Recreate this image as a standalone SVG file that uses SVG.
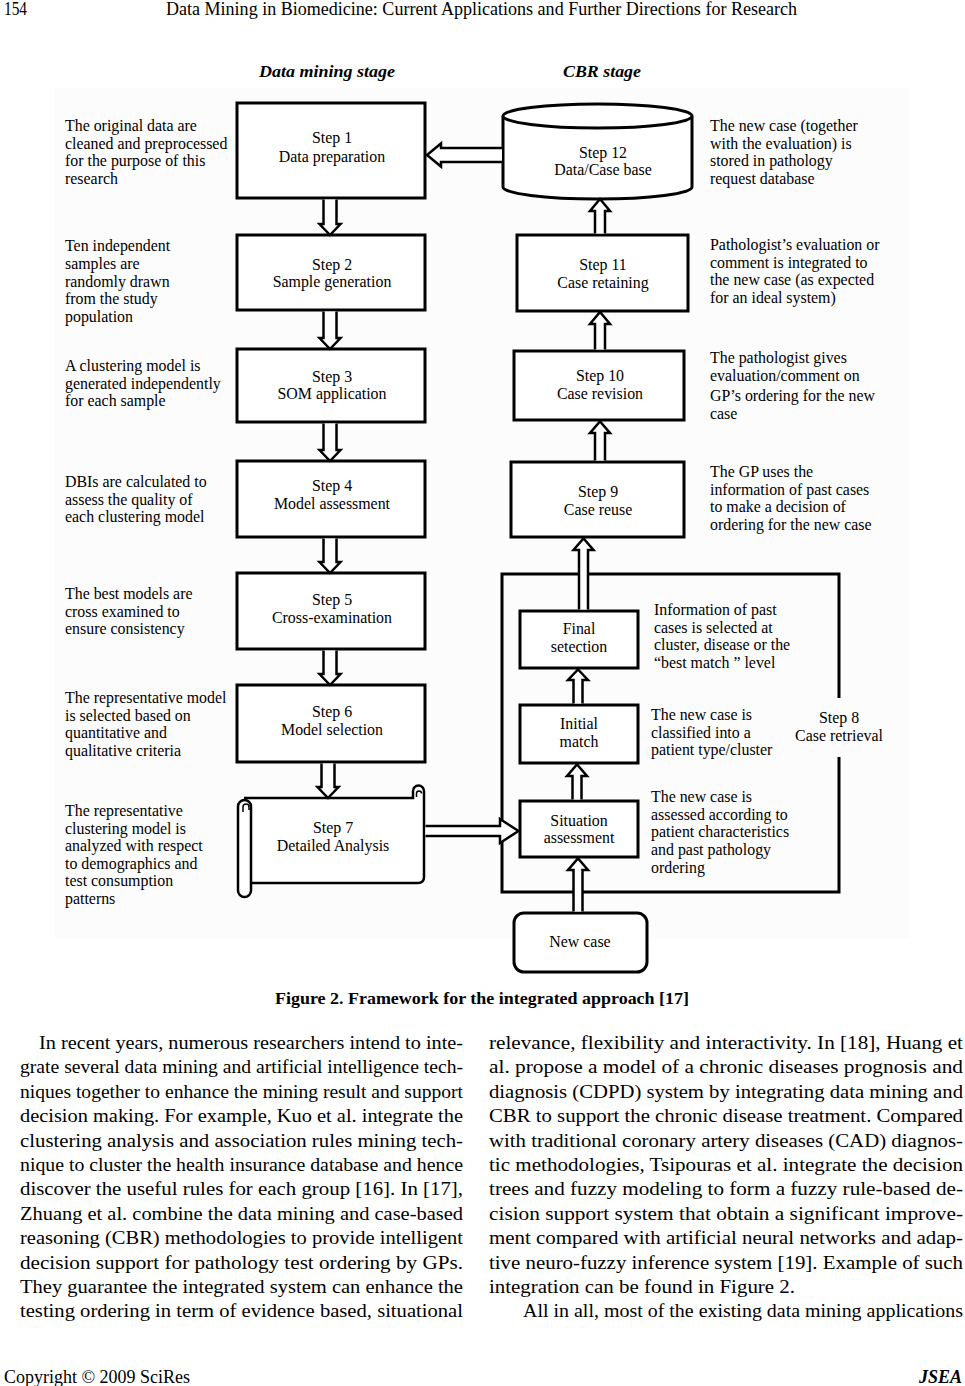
<svg xmlns="http://www.w3.org/2000/svg" width="965" height="1386" viewBox="0 0 965 1386">
<style>
text{font-family:"Liberation Serif","Times New Roman",serif;fill:#000}
.d{font-size:15.9px}
.c{text-anchor:middle}
.b{font-size:19px}
.box{fill:#fff;stroke:#000;stroke-width:3}
.ln{fill:none;stroke:#000;stroke-width:3}
.ar{fill:#fff;stroke:#000;stroke-width:2.5;stroke-linejoin:miter}
</style>
<rect x="0" y="0" width="965" height="1386" fill="#fff"/>
<rect x="55" y="88" width="855" height="850" fill="#fcfcfc"/>
<!-- page header -->
<text x="4" y="15" font-size="18" textLength="23" lengthAdjust="spacingAndGlyphs">154</text>
<text x="166" y="15" font-size="18" textLength="631" lengthAdjust="spacingAndGlyphs">Data Mining in Biomedicine: Current Applications and Further Directions for Research</text>
<text x="259" y="77" font-size="17" font-weight="bold" font-style="italic" textLength="136" lengthAdjust="spacingAndGlyphs">Data mining stage</text>
<text x="563" y="77" font-size="17" font-weight="bold" font-style="italic" textLength="78" lengthAdjust="spacingAndGlyphs">CBR stage</text>

<!-- Step 8 container -->
<g id="step8">
<path class="ln" d="M839,698 V574 H502 V892 H839 V757"/>
<text class="d c" x="839" y="723">Step 8</text>
<text class="d c" x="839" y="741">Case retrieval</text>
</g>

<g id="step1">
<rect class="box" x="237" y="103" width="188" height="95"/>
<text class="d c" x="332" y="143">Step 1</text>
<text class="d c" x="332" y="162">Data preparation</text>
<text class="d" x="65" y="131">The original data are</text>
<text class="d" x="65" y="148.5">cleaned and preprocessed</text>
<text class="d" x="65" y="166">for the purpose of this</text>
<text class="d" x="65" y="183.5">research</text>
</g>
<g id="step2">
<rect class="box" x="237" y="235" width="188" height="75"/>
<text class="d c" x="332" y="270">Step 2</text>
<text class="d c" x="332" y="287">Sample generation</text>
<text class="d" x="65" y="251">Ten independent</text>
<text class="d" x="65" y="269">samples are</text>
<text class="d" x="65" y="286.5">randomly drawn</text>
<text class="d" x="65" y="304">from the study</text>
<text class="d" x="65" y="322">population</text>
</g>
<g id="step3">
<rect class="box" x="237" y="349" width="188" height="73"/>
<text class="d c" x="332" y="382">Step 3</text>
<text class="d c" x="332" y="399">SOM application</text>
<text class="d" x="65" y="371">A clustering model is</text>
<text class="d" x="65" y="388.5">generated independently</text>
<text class="d" x="65" y="406">for each sample</text>
</g>
<g id="step4">
<rect class="box" x="237" y="461" width="188" height="76"/>
<text class="d c" x="332" y="491">Step 4</text>
<text class="d c" x="332" y="509">Model assessment</text>
<text class="d" x="65" y="487">DBIs are calculated to</text>
<text class="d" x="65" y="504.5">assess the quality of</text>
<text class="d" x="65" y="522">each clustering model</text>
</g>
<g id="step5">
<rect class="box" x="237" y="573" width="188" height="76"/>
<text class="d c" x="332" y="605">Step 5</text>
<text class="d c" x="332" y="623">Cross-examination</text>
<text class="d" x="65" y="599">The best models are</text>
<text class="d" x="65" y="616.5">cross examined to</text>
<text class="d" x="65" y="634">ensure consistency</text>
</g>
<g id="step6">
<rect class="box" x="237" y="685" width="188" height="77"/>
<text class="d c" x="332" y="717">Step 6</text>
<text class="d c" x="332" y="735">Model selection</text>
<text class="d" x="65" y="703">The representative model</text>
<text class="d" x="65" y="720.5">is selected based on</text>
<text class="d" x="65" y="738">quantitative and</text>
<text class="d" x="65" y="755.5">qualitative criteria</text>
</g>
<g id="step7">
<path fill="#fff" stroke="#000" stroke-width="2.5" d="M244,798 H413 V791 A5.5,5.5 0 0 1 424,791 V877 Q424,883 418,883 H251"/>
<path fill="none" stroke="#000" stroke-width="1.5" d="M416.5,797 V793.5 A2.5,2.5 0 0 1 421.5,793.5"/>
<rect x="238" y="800" width="13" height="97" rx="6.5" fill="#fff" stroke="#000" stroke-width="2.5"/>
<path fill="none" stroke="#000" stroke-width="1.5" d="M243,812 V807 A3,3 0 0 1 249,807 V810"/>
<text class="d c" x="333" y="833">Step 7</text>
<text class="d c" x="333" y="851">Detailed Analysis</text>
<text class="d" x="65" y="816">The representative</text>
<text class="d" x="65" y="833.5">clustering model is</text>
<text class="d" x="65" y="851">analyzed with respect</text>
<text class="d" x="65" y="868.5">to demographics and</text>
<text class="d" x="65" y="886">test consumption</text>
<text class="d" x="65" y="903.5">patterns</text>
</g>

<g id="step12">
<path class="box" d="M503,116 V187 A94.5,12 0 0 0 692,187 V116"/>
<ellipse class="box" cx="597.5" cy="116" rx="94.5" ry="12"/>
<text class="d c" x="603" y="158">Step 12</text>
<text class="d c" x="603" y="175">Data/Case base</text>
<text class="d" x="710" y="131">The new case (together</text>
<text class="d" x="710" y="148.5">with the evaluation) is</text>
<text class="d" x="710" y="166">stored in pathology</text>
<text class="d" x="710" y="183.5">request database</text>
</g>
<g id="step11">
<rect class="box" x="517" y="235" width="171" height="76"/>
<text class="d c" x="603" y="270">Step 11</text>
<text class="d c" x="603" y="288">Case retaining</text>
<text class="d" x="710" y="250">Pathologist’s evaluation or</text>
<text class="d" x="710" y="267.5">comment is integrated to</text>
<text class="d" x="710" y="285">the new case (as expected</text>
<text class="d" x="710" y="302.5">for an ideal system)</text>
</g>
<g id="step10">
<rect class="box" x="514" y="351" width="170" height="69"/>
<text class="d c" x="600" y="381">Step 10</text>
<text class="d c" x="600" y="399">Case revision</text>
<text class="d" x="710" y="363">The pathologist gives</text>
<text class="d" x="710" y="380.5">evaluation/comment on</text>
<text class="d" x="710" y="401">GP’s ordering for the new</text>
<text class="d" x="710" y="419">case</text>
</g>
<g id="step9">
<rect class="box" x="511" y="462" width="173" height="75"/>
<text class="d c" x="598" y="497">Step 9</text>
<text class="d c" x="598" y="515">Case reuse</text>
<text class="d" x="710" y="477">The GP uses the</text>
<text class="d" x="710" y="494.5">information of past cases</text>
<text class="d" x="710" y="512">to make a decision of</text>
<text class="d" x="710" y="529.5">ordering for the new case</text>
</g>
<g id="final-selection">
<rect class="box" x="520" y="611" width="118" height="57"/>
<text class="d c" x="579" y="634">Final</text>
<text class="d c" x="579" y="652">setection</text>
<text class="d" x="654" y="615">Information of past</text>
<text class="d" x="654" y="632.5">cases is selected at</text>
<text class="d" x="654" y="650">cluster, disease or the</text>
<text class="d" x="654" y="667.5">“best match ” level</text>
</g>
<g id="initial-match">
<rect class="box" x="520" y="705" width="118" height="58"/>
<text class="d c" x="579" y="729">Initial</text>
<text class="d c" x="579" y="747">match</text>
<text class="d" x="651" y="720">The new case is</text>
<text class="d" x="651" y="737.5">classified into a</text>
<text class="d" x="651" y="755">patient type/cluster</text>
</g>
<g id="situation-assessment">
<rect class="box" x="520" y="801" width="118" height="56"/>
<text class="d c" x="579" y="826">Situation</text>
<text class="d c" x="579" y="843">assessment</text>
<text class="d" x="651" y="802">The new case is</text>
<text class="d" x="651" y="819.5">assessed according to</text>
<text class="d" x="651" y="837">patient characteristics</text>
<text class="d" x="651" y="855">and past pathology</text>
<text class="d" x="651" y="872.5">ordering</text>
</g>
<g id="new-case">
<rect class="box" x="514" y="913" width="133" height="59" rx="10"/>
<text class="d c" x="580" y="947">New case</text>
</g>

<g id="connectors">
<polyline class="ar" points="502,148 441,148 441,143.5 427,155 441,166.5 441,162 502,162"/>
<polyline class="ar" points="323.5,199.5 323.5,224 319.5,224 330,235 340.5,224 336.5,224 336.5,199.5"/>
<polyline class="ar" points="323.5,311.5 323.5,338 319.5,338 330,349 340.5,338 336.5,338 336.5,311.5"/>
<polyline class="ar" points="323.5,423.5 323.5,450 319.5,450 330,461 340.5,450 336.5,450 336.5,423.5"/>
<polyline class="ar" points="323.5,538.5 323.5,562 319.5,562 330,573 340.5,562 336.5,562 336.5,538.5"/>
<polyline class="ar" points="323.5,650.5 323.5,674 319.5,674 330,685 340.5,674 336.5,674 336.5,650.5"/>
<polyline class="ar" points="321.5,763.5 321.5,787 317.5,787 328,798 338.5,787 334.5,787 334.5,763.5"/>
<polyline class="ar" points="595,233.5 595,211 590,211 600,199 610,211 605,211 605,233.5"/>
<polyline class="ar" points="595,349.5 595,324 590,324 600,312 610,324 605,324 605,349.5"/>
<polyline class="ar" points="595,460.5 595,433 590,433 600,421.5 610,433 605,433 605,460.5"/>
<polyline class="ar" points="579,609.5 579,550 573.5,550 583.5,538.5 593.5,550 588,550 588,609.5"/>
<polyline class="ar" points="573.5,703.5 573.5,680 568,680 578,669.5 588,680 582.5,680 582.5,703.5"/>
<polyline class="ar" points="572.5,799.5 572.5,776 567,776 577,764.5 587,776 581.5,776 581.5,799.5"/>
<polyline class="ar" points="573.5,911.5 573.5,870 568,870 578,858.5 588,870 582.5,870 582.5,911.5"/>
<polyline class="ar" points="425.5,826 500,826 500,819 518.5,831 500,843 500,836 425.5,836"/>
</g>

<!-- caption and body text -->
<text x="275" y="1004" font-size="17" font-weight="bold" textLength="414" lengthAdjust="spacingAndGlyphs">Figure 2. Framework for the integrated approach [17]</text>
<g class="body">
<text class="b" x="39" y="1049" textLength="424" lengthAdjust="spacingAndGlyphs">In recent years, numerous researchers intend to inte-</text>
<text class="b" x="20" y="1073.4" textLength="443" lengthAdjust="spacingAndGlyphs">grate several data mining and artificial intelligence tech-</text>
<text class="b" x="20" y="1097.8" textLength="443" lengthAdjust="spacingAndGlyphs">niques together to enhance the mining result and support</text>
<text class="b" x="20" y="1122.2" textLength="443" lengthAdjust="spacingAndGlyphs">decision making. For example, Kuo et al. integrate the</text>
<text class="b" x="20" y="1146.6" textLength="443" lengthAdjust="spacingAndGlyphs">clustering analysis and association rules mining tech-</text>
<text class="b" x="20" y="1171" textLength="443" lengthAdjust="spacingAndGlyphs">nique to cluster the health insurance database and hence</text>
<text class="b" x="20" y="1195.4" textLength="443" lengthAdjust="spacingAndGlyphs">discover the useful rules for each group [16]. In [17],</text>
<text class="b" x="20" y="1219.8" textLength="443" lengthAdjust="spacingAndGlyphs">Zhuang et al. combine the data mining and case-based</text>
<text class="b" x="20" y="1244.2" textLength="443" lengthAdjust="spacingAndGlyphs">reasoning (CBR) methodologies to provide intelligent</text>
<text class="b" x="20" y="1268.6" textLength="443" lengthAdjust="spacingAndGlyphs">decision support for pathology test ordering by GPs.</text>
<text class="b" x="20" y="1293" textLength="443" lengthAdjust="spacingAndGlyphs">They guarantee the integrated system can enhance the</text>
<text class="b" x="20" y="1317.4" textLength="443" lengthAdjust="spacingAndGlyphs">testing ordering in term of evidence based, situational</text>
<text class="b" x="489" y="1049" textLength="474" lengthAdjust="spacingAndGlyphs">relevance, flexibility and interactivity. In [18], Huang et</text>
<text class="b" x="489" y="1073.4" textLength="474" lengthAdjust="spacingAndGlyphs">al. propose a model of a chronic diseases prognosis and</text>
<text class="b" x="489" y="1097.8" textLength="474" lengthAdjust="spacingAndGlyphs">diagnosis (CDPD) system by integrating data mining and</text>
<text class="b" x="489" y="1122.2" textLength="474" lengthAdjust="spacingAndGlyphs">CBR to support the chronic disease treatment. Compared</text>
<text class="b" x="489" y="1146.6" textLength="474" lengthAdjust="spacingAndGlyphs">with traditional coronary artery diseases (CAD) diagnos-</text>
<text class="b" x="489" y="1171" textLength="474" lengthAdjust="spacingAndGlyphs">tic methodologies, Tsipouras et al. integrate the decision</text>
<text class="b" x="489" y="1195.4" textLength="474" lengthAdjust="spacingAndGlyphs">trees and fuzzy modeling to form a fuzzy rule-based de-</text>
<text class="b" x="489" y="1219.8" textLength="474" lengthAdjust="spacingAndGlyphs">cision support system that obtain a significant improve-</text>
<text class="b" x="489" y="1244.2" textLength="474" lengthAdjust="spacingAndGlyphs">ment compared with artificial neural networks and adap-</text>
<text class="b" x="489" y="1268.6" textLength="474" lengthAdjust="spacingAndGlyphs">tive neuro-fuzzy inference system [19]. Example of such</text>
<text class="b" x="489" y="1293" textLength="306" lengthAdjust="spacingAndGlyphs">integration can be found in Figure 2.</text>
<text class="b" x="523" y="1317.4" textLength="440" lengthAdjust="spacingAndGlyphs">All in all, most of the existing data mining applications</text>
</g>
<text x="4" y="1383" font-size="18" textLength="186" lengthAdjust="spacingAndGlyphs">Copyright © 2009 SciRes</text>
<text x="962" y="1383" font-size="18" font-weight="bold" font-style="italic" text-anchor="end">JSEA</text>
</svg>
